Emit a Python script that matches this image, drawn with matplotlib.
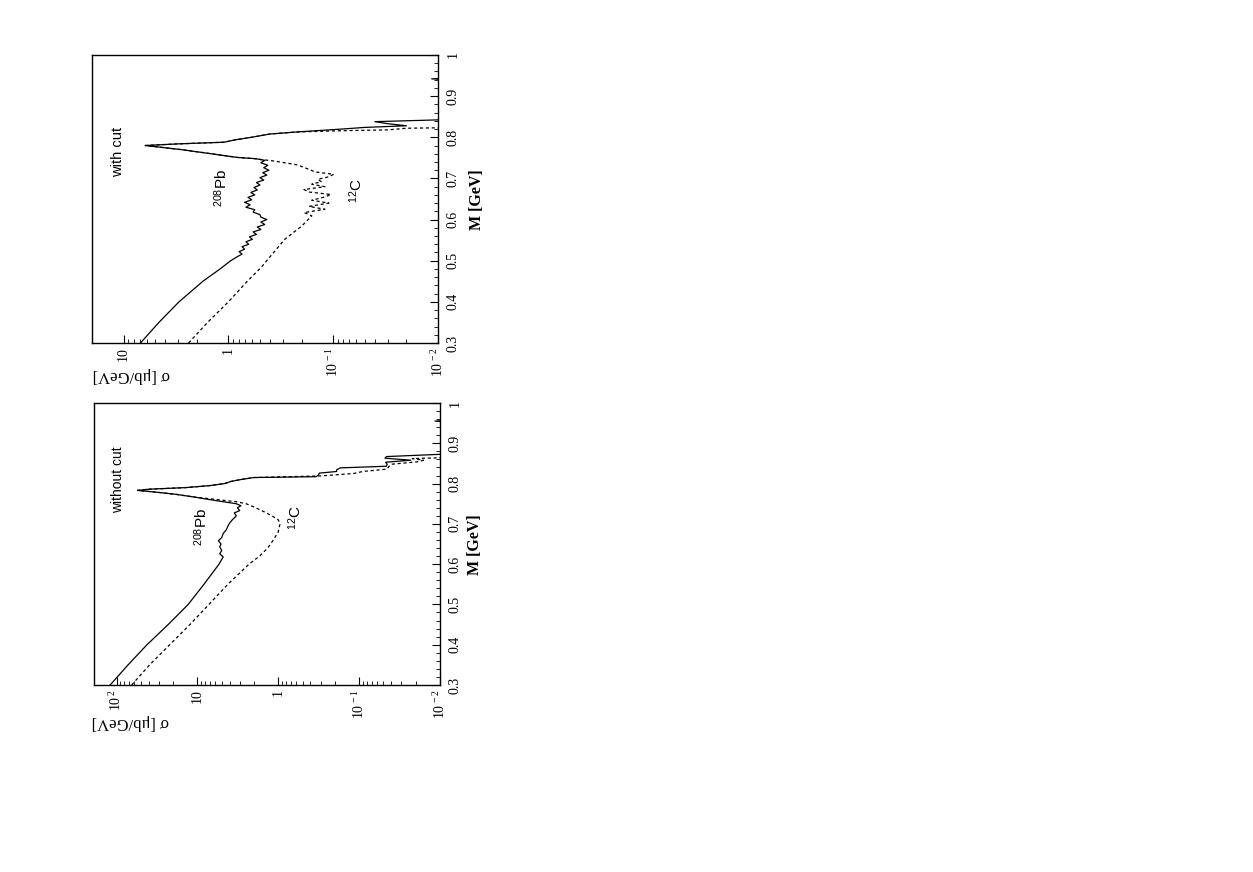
import matplotlib
matplotlib.use("Agg")
import matplotlib.pyplot as plt
from matplotlib.ticker import FixedLocator, LogLocator, MultipleLocator, FuncFormatter, NullFormatter

# =========================================================
# data
# =========================================================

# without cut, 208Pb (solid)
m_nc_pb = [0.300, 0.350, 0.400, 0.450, 0.500, 0.550, 0.600, 0.618, 0.626, 0.634,
           0.643, 0.650, 0.658, 0.666, 0.676, 0.685, 0.694, 0.702, 0.710, 0.720,
           0.727, 0.733, 0.740, 0.745, 0.750, 0.757, 0.762, 0.767, 0.773, 0.778,
           0.783, 0.786, 0.790, 0.795, 0.800, 0.805, 0.810, 0.815, 0.817, 0.821,
           0.826, 0.830, 0.834, 0.839, 0.843, 0.848, 0.853, 0.858, 0.863, 0.867,
           0.873, 0.876, 0.950, 0.955, 0.960]
s_nc_pb = [120, 72, 42, 23, 13, 8.3, 5.4, 4.8, 5.3, 5.0,
           5.3, 5.1, 5.5, 5.0, 4.8, 4.4, 4.2, 4.0, 3.7, 3.3,
           3.5, 3.0, 3.2, 2.9, 3.3, 5.6, 8.0, 11.3, 18, 30,
           55, 40, 14, 7.0, 4.6, 3.9, 2.9, 2.0, 0.34, 0.32,
           0.31, 0.19, 0.19, 0.17, 0.046, 0.045, 0.047, 0.023, 0.048, 0.046,
           0.009, 0.005, 0.005, 0.0115, 0.005]

# without cut, 12C (dashed)
m_nc_c = [0.300, 0.350, 0.400, 0.450, 0.500, 0.550, 0.600, 0.620, 0.640, 0.660,
          0.680, 0.690, 0.700, 0.710, 0.720, 0.730, 0.740, 0.750, 0.755, 0.760,
          0.767, 0.773, 0.778, 0.783, 0.786, 0.790, 0.795, 0.800, 0.805, 0.810,
          0.815, 0.819, 0.825, 0.830, 0.836, 0.842, 0.848, 0.854, 0.858, 0.862,
          0.866]
s_nc_c = [65, 39, 22, 12.4, 7.2, 4.2, 2.3, 1.7, 1.35, 1.15,
          1.0, 0.98, 0.95, 1.0, 1.2, 1.5, 1.9, 2.5, 3.3, 5.6,
          11.3, 18, 30, 55, 40, 14, 7.0, 4.6, 3.9, 2.9,
          2.0, 0.30, 0.117, 0.09, 0.045, 0.043, 0.04, 0.019, 0.016, 0.022,
          0.005]

# with cut, 208Pb (solid)
m_wc_pb = [0.300, 0.350, 0.400, 0.450, 0.480, 0.500, 0.510, 0.516, 0.522, 0.528,
           0.534, 0.540, 0.546, 0.552, 0.558, 0.564, 0.570, 0.576, 0.582, 0.588,
           0.594, 0.600, 0.606, 0.612, 0.618, 0.624, 0.630, 0.636, 0.642, 0.648,
           0.654, 0.660, 0.666, 0.672, 0.678, 0.684, 0.690, 0.696, 0.702, 0.708,
           0.714, 0.720, 0.726, 0.732, 0.738, 0.744, 0.748, 0.751,
           0.759, 0.770, 0.780, 0.784, 0.788, 0.794, 0.800, 0.808, 0.813, 0.820,
           0.824, 0.828, 0.833, 0.838, 0.843, 0.846, 0.938, 0.942, 0.946]
s_wc_pb = [6.9, 4.6, 2.96, 1.75, 1.2, 0.95, 0.82, 0.74, 0.79, 0.70,
           0.74, 0.64, 0.68, 0.59, 0.63, 0.54, 0.58, 0.49, 0.53, 0.45,
           0.49, 0.43, 0.49, 0.50, 0.58, 0.56, 0.68, 0.62, 0.70, 0.60,
           0.65, 0.56, 0.61, 0.53, 0.57, 0.50, 0.54, 0.46, 0.50, 0.43,
           0.47, 0.41, 0.46, 0.42, 0.49, 0.45, 0.55, 0.82,
           1.37, 2.8, 6.2, 3.0, 1.1, 0.85, 0.60, 0.40, 0.22, 0.083,
           0.05, 0.02, 0.03, 0.04, 0.008, 0.005, 0.005, 0.0115, 0.005]

# with cut, 12C (dashed)
m_wc_c = [0.300, 0.350, 0.400, 0.450, 0.483, 0.520, 0.552, 0.584, 0.609, 0.617,
          0.625, 0.632, 0.640, 0.647, 0.655, 0.661, 0.667, 0.673, 0.680, 0.686,
          0.692, 0.698, 0.704, 0.710, 0.716, 0.722, 0.733, 0.742, 0.748, 0.751,
          0.759, 0.770, 0.780, 0.784, 0.788, 0.794, 0.800, 0.808, 0.813, 0.816,
          0.818, 0.822, 0.824]
s_wc_c = [2.4, 1.58, 1.0, 0.66, 0.49, 0.37, 0.29, 0.20, 0.16, 0.19,
          0.12, 0.17, 0.11, 0.16, 0.12, 0.105, 0.17, 0.19, 0.12, 0.16,
          0.13, 0.14, 0.11, 0.099, 0.15, 0.17, 0.22, 0.36, 0.56, 0.82,
          1.37, 2.8, 6.2, 3.0, 1.1, 0.85, 0.60, 0.40, 0.22, 0.083,
          0.03, 0.02, 0.005]

sigma_ticks_nc = [100, 10, 1, 0.1, 0.01]
sigma_labels_nc = [r"$10^{\,2}$", "10", "1", r"$10^{\,-1}$", r"$10^{\,-2}$"]
sigma_ticks_wc = [10, 1, 0.1, 0.01]
sigma_labels_wc = ["10", "1", r"$10^{\,-1}$", r"$10^{\,-2}$"]

plt.rcParams["font.family"] = ["Liberation Serif", "DejaVu Serif"]
plt.rcParams["mathtext.fontset"] = "custom"
plt.rcParams["mathtext.rm"] = "Liberation Serif"
plt.rcParams["mathtext.it"] = "Liberation Serif"
plt.rcParams["mathtext.sf"] = "Liberation Sans"

W, H = 1253, 872
fig = plt.figure(figsize=(W / 100, H / 100), dpi=100)


def px_box(x0, y0, x1, y1):
    # pixel frame -> figure fraction
    return [x0 / W, 1 - y1 / H, (x1 - x0) / W, (y1 - y0) / H]


def setup_panel(ax, xmax, ticks, labels):
    ax.set_xscale("log")
    ax.set_xlim(xmax, 0.01)
    ax.set_ylim(0.3, 1.0)
    for sp in ax.spines.values():
        sp.set_linewidth(1.0)

    ax.xaxis.set_major_locator(FixedLocator(ticks))
    ax.xaxis.set_major_formatter(FuncFormatter(lambda v, p: labels[ticks.index(v)] if v in ticks else ""))
    ax.xaxis.set_minor_locator(LogLocator(base=10, subs=range(2, 10), numticks=20))
    ax.xaxis.set_minor_formatter(NullFormatter())
    ax.tick_params(axis="x", which="both", direction="in", top=False, bottom=True,
                   labelrotation=90, labelsize=10, pad=3)
    ax.tick_params(axis="x", which="major", length=6, width=0.8)
    ax.tick_params(axis="x", which="minor", length=3, width=0.6)

    ax.yaxis.tick_right()
    ax.yaxis.set_major_locator(MultipleLocator(0.1))
    ax.yaxis.set_minor_locator(MultipleLocator(0.02))
    ax.yaxis.set_major_formatter(FuncFormatter(lambda v, p: f"{v:g}"))
    ax.tick_params(axis="y", which="both", direction="in", left=False, right=True,
                   labelright=True, labelleft=False, labelrotation=90, labelsize=10, pad=6)
    ax.tick_params(axis="y", which="major", length=6, width=0.8)
    ax.tick_params(axis="y", which="minor", length=3, width=0.6)
    for t in ax.get_yticklabels():
        t.set_verticalalignment("center")


sans = ["Liberation Sans", "DejaVu Sans"]

# ---------------- lower panel: without cut ----------------
ax_b = fig.add_axes(px_box(94, 403, 440, 685))
setup_panel(ax_b, 190, sigma_ticks_nc, sigma_labels_nc)
ax_b.plot(s_nc_pb, m_nc_pb, color="black", lw=0.9)
ax_b.plot(s_nc_c, m_nc_c, color="black", lw=0.9, ls=(0, (2.5, 2.2)))
ax_b.text(96, 0.809, "without cut", rotation=90, ha="center", va="center", family=sans, fontsize=10)
ax_b.text(9.0, 0.693, r"$^{\mathsf{208}}$Pb", rotation=90, ha="center", va="center", family=sans, fontsize=11)
ax_b.text(0.62, 0.716, r"$^{\mathsf{12}}$C", rotation=90, ha="center", va="center", family=sans, fontsize=11)

# ---------------- upper panel: with cut ----------------
ax_t = fig.add_axes(px_box(92, 55, 438, 343))
setup_panel(ax_t, 20, sigma_ticks_wc, sigma_labels_wc)
ax_t.plot(s_wc_pb, m_wc_pb, color="black", lw=0.9)
ax_t.plot(s_wc_c, m_wc_c, color="black", lw=0.9, ls=(0, (2.5, 2.2)))
ax_t.text(11.2, 0.764, "with cut", rotation=90, ha="center", va="center", family=sans, fontsize=10.5)
ax_t.text(1.18, 0.676, r"$^{\mathsf{208}}$Pb", rotation=90, ha="center", va="center", family=sans, fontsize=11)
ax_t.text(0.06, 0.671, r"$^{\mathsf{12}}$C", rotation=90, ha="center", va="center", family=sans, fontsize=11)

# axis titles (figure is printed rotated by 90 degrees)
fig.text(475 / W, 1 - 545 / H, "M [GeV]", rotation=90, ha="center", va="center",
         fontsize=11.5, fontweight="bold")
fig.text(477 / W, 1 - 200 / H, "M [GeV]", rotation=90, ha="center", va="center",
         fontsize=11.5, fontweight="bold")
fig.text(92 / W, 1 - 722 / H, "σ [μb/GeV]", rotation=180, ha="left", va="center", fontsize=12)
fig.text(93 / W, 1 - 375 / H, "σ [μb/GeV]", rotation=180, ha="left", va="center", fontsize=12)

fig.savefig("out.png", dpi=100)
